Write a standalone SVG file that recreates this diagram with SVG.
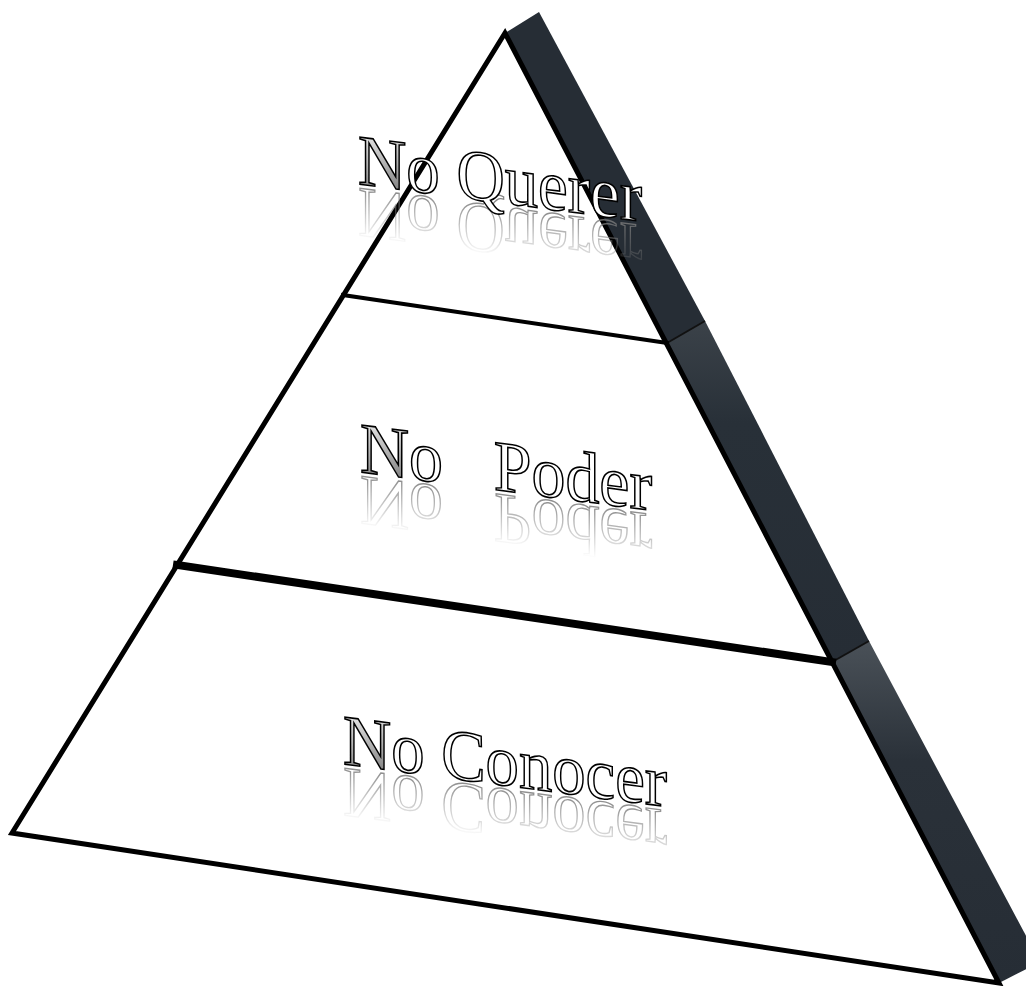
<svg xmlns="http://www.w3.org/2000/svg" width="1026" height="986" viewBox="0 0 1026 986">
<defs>
<style>
.lbl{font-family:"Liberation Serif","Times New Roman",serif;font-size:72px;fill:#fff;stroke:#000;stroke-width:1.6;}
.refl{fill:none;stroke:#7a7a7a;stroke-width:1.4;}
.edge{fill:none;stroke:#000;stroke-linejoin:miter;stroke-linecap:square;}
.seam{fill:none;stroke:#111;stroke-width:2;}
</style>
<linearGradient id="ng" x1="0" y1="0" x2="1" y2="1">
<stop offset="0" stop-color="#ffffff"/>
<stop offset="0.45" stop-color="#8a8a8a"/>
<stop offset="1" stop-color="#2a2a2a"/>
</linearGradient>
<linearGradient id="fade" gradientUnits="userSpaceOnUse" x1="0" y1="0" x2="0" y2="55">
<stop offset="0" stop-color="#fff" stop-opacity="0.9"/>
<stop offset="1" stop-color="#fff" stop-opacity="0"/>
</linearGradient>
<mask id="rm" maskUnits="userSpaceOnUse" x="-50" y="-10" width="500" height="90">
<rect x="-50" y="-10" width="500" height="90" fill="url(#fade)"/>
</mask>
<linearGradient id="seg2" gradientUnits="userSpaceOnUse" x1="0" y1="321" x2="0" y2="662">
<stop offset="0" stop-color="#3b4249"/>
<stop offset="0.3" stop-color="#283038"/>
<stop offset="1" stop-color="#262d35"/>
</linearGradient>
<linearGradient id="seg3" gradientUnits="userSpaceOnUse" x1="0" y1="641" x2="0" y2="983">
<stop offset="0" stop-color="#4a5158"/>
<stop offset="0.35" stop-color="#2a3139"/>
<stop offset="1" stop-color="#262d35"/>
</linearGradient>
</defs>

<g id="side-band">
<polygon points="505,33 539,12 705,321 667,343" fill="#262d35"/>
<polygon points="667,343 705,321 869,641 832,662" fill="url(#seg2)"/>
<polygon points="832,662 869,641 1040,962 999,983" fill="url(#seg3)"/>
<line class="seam" x1="667" y1="343" x2="705" y2="321"/>
<line class="seam" x1="832" y1="662" x2="869" y2="641"/>
</g>

<g id="front-face">
<polygon class="edge" points="505,33 12,833 999,983" fill="#fff" stroke-width="5"/>
</g>

<g id="connectors">
<line class="edge" x1="343" y1="295" x2="667" y2="343" stroke-width="4"/>
<line class="edge" x1="177" y1="565" x2="832" y2="662" stroke-width="8"/>
</g>

<g id="level-top" transform="translate(358,184) skewY(7.5)">
<g mask="url(#rm)"><text class="lbl refl" transform="translate(0,4) scale(1,-1)" textLength="284" lengthAdjust="spacingAndGlyphs">No Querer</text></g>
<text class="lbl" textLength="284" lengthAdjust="spacingAndGlyphs"><tspan fill="url(#ng)">N</tspan>o Querer</text>
</g>

<g id="level-middle" transform="translate(360,472) skewY(7.5)">
<g mask="url(#rm)"><text class="lbl refl" transform="translate(0,4) scale(1,-1)" xml:space="preserve" textLength="292" lengthAdjust="spacingAndGlyphs">No   Poder</text></g>
<text class="lbl" xml:space="preserve" textLength="292" lengthAdjust="spacingAndGlyphs"><tspan fill="url(#ng)">N</tspan>o   Poder</text>
</g>

<g id="level-bottom" transform="translate(343,764) skewY(7.5)">
<g mask="url(#rm)"><text class="lbl refl" transform="translate(0,4) scale(1,-1)" textLength="324" lengthAdjust="spacingAndGlyphs">No Conocer</text></g>
<text class="lbl" textLength="324" lengthAdjust="spacingAndGlyphs"><tspan fill="url(#ng)">N</tspan>o Conocer</text>
</g>
</svg>
